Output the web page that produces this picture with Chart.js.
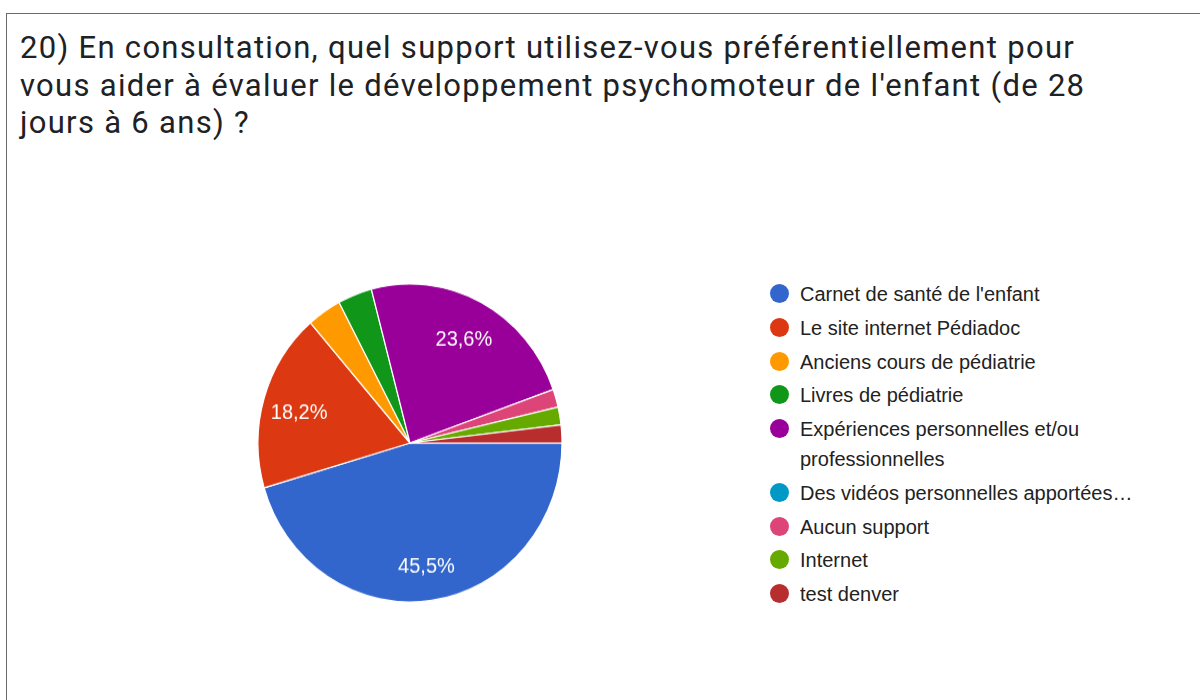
<!DOCTYPE html>
<html lang="fr">
<head>
<meta charset="utf-8">
<title>Support d'évaluation du développement psychomoteur</title>
<script src="https://cdn.jsdelivr.net/npm/chart.js@4/dist/chart.umd.min.js"></script>
<style>
    html, body {
        margin: 0;
        padding: 0;
        background: #ffffff;
    }
    #frame {
        position: absolute;
        left: 6px;
        top: 13px;
        width: 1200px;
        height: 700px;
        border-left: 1px solid #6b6b6b;
        border-top: 1px solid #6b6b6b;
    }
    #title {
        position: absolute;
        left: 20px;
        top: 29px;
        font-family: Roboto, "Noto Sans", sans-serif;
        font-size: 31px;
        letter-spacing: 1.3px;
        line-height: 37.5px;
        color: #202124;
        white-space: nowrap;
    }
    #pieBox {
        position: absolute;
        left: 245px;
        top: 278px;
        width: 330px;
        height: 330px;
        transform: scaleY(1.046);
        transform-origin: 50% 50%;
    }
    #legend {
        position: absolute;
        left: 770px;
        top: 280px;
        margin: 0;
        padding: 0;
        list-style: none;
        font-family: "Liberation Sans", Arial, sans-serif;
        font-size: 20px;
        color: #222222;
    }
    #legend li {
        display: flex;
        align-items: flex-start;
        margin-bottom: 4.75px;
    }
    #legend .dot {
        flex: 0 0 auto;
        width: 19px;
        height: 19px;
        border-radius: 50%;
        margin-top: 4px;
        margin-right: 11px;
    }
    #legend .txt {
        width: 345px;
        line-height: 30px;
        margin-top: -1px;
    }
</style>
</head>
<body>
<div id="frame"></div>
<div id="title">20) En consultation, quel support utilisez-vous préférentiellement pour<br>vous aider à évaluer le développement psychomoteur de l'enfant (de 28<br>jours à 6 ans) ?</div>
<div id="pieBox"><canvas id="pieChart"></canvas></div>
<ul id="legend"></ul>

<script>
const supports = [
    'Carnet de santé de l\'enfant',
    'Le site internet Pédiadoc',
    'Anciens cours de pédiatrie',
    'Livres de pédiatrie',
    'Expériences personnelles et/ou professionnelles',
    'Des vidéos personnelles apportées…',
    'Aucun support',
    'Internet',
    'test denver'
];
const reponses = [25, 10, 2, 2, 13, 0, 1, 1, 1];
const couleurs = ['#3366cc', '#dc3912', '#ff9900', '#109618', '#990099', '#0099c6', '#dd4477', '#66aa00', '#b82e2e'];

// légende à droite, même ordre que les parts
const legend = document.getElementById('legend');
supports.forEach((label, i) => {
    const li = document.createElement('li');
    li.innerHTML = `<span class="dot" style="background:${couleurs[i]}"></span><span class="txt">${label}</span>`;
    legend.appendChild(li);
});

// pourcentages dans les grandes parts (style Google Forms)
const percentLabels = {
    id: 'percentLabels',
    afterDatasetsDraw(chart) {
        const ctx = chart.ctx;
        const data = chart.data.datasets[0].data;
        const total = data.reduce((a, b) => a + b, 0);
        const meta = chart.getDatasetMeta(0);
        ctx.save();
        ctx.font = '20px "Liberation Sans", Arial, sans-serif';
        ctx.fillStyle = '#ffffff';
        ctx.textAlign = 'center';
        ctx.textBaseline = 'middle';
        meta.data.forEach((arc, i) => {
            const part = data[i] / total;
            if (part < 0.05) return;
            const p = arc.getProps(['x', 'y', 'startAngle', 'endAngle', 'outerRadius'], true);
            const mid = (p.startAngle + p.endAngle) / 2;
            const r = p.outerRadius * 0.76;
            const txt = (part * 100).toFixed(1).replace('.', ',') + '%';
            ctx.fillText(txt, p.x + Math.cos(mid) * r, p.y + Math.sin(mid) * r + 4);
        });
        ctx.restore();
    }
};

const ctx = document.getElementById('pieChart').getContext('2d');
new Chart(ctx, {
    type: 'pie',
    data: {
        labels: supports,
        datasets: [{
            data: reponses,
            backgroundColor: couleurs,
            borderColor: '#ffffff',
            borderWidth: 1.2,
            hoverOffset: 0
        }]
    },
    options: {
        responsive: true,
        maintainAspectRatio: false,
        animation: false,
        rotation: 90,
        radius: 152,
        layout: { padding: 0 },
        plugins: {
            legend: { display: false },
            tooltip: { enabled: false }
        }
    },
    plugins: [percentLabels]
});
</script>
</body>
</html>
